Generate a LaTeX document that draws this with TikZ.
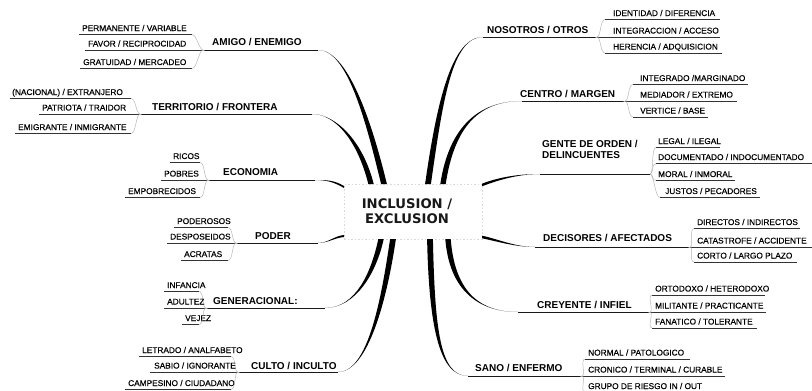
\documentclass[tikz,border=0pt]{standalone}
\usepackage{fontspec}
\newfontfamily\libsans{Liberation Sans}
\newfontfamily\libsub[FakeBold=0.35]{Liberation Sans}
\newfontfamily\djsans{DejaVu Sans}
\tikzset{
 mainlab/.style={font=\libsans\bfseries\fontsize{10}{11}\selectfont, anchor=base west, inner sep=0pt, align=left, text=black},
 sublab/.style={font=\libsub\fontsize{8.3}{10}\selectfont, anchor=base west, inner sep=0pt, text=black},
 uline/.style={draw=black!90, line width=0.8pt},
 subul/.style={draw=black!80, line width=0.6pt},
 subline/.style={draw=black!30, line width=0.45pt},
 limb/.style={fill=black},
 corebox/.style={draw=black!15, dash pattern=on 1.5pt off 2pt, fill=white, line width=0.5pt, minimum width=138pt, minimum height=55pt, inner sep=0pt},
 coretext/.style={font=\djsans\bfseries\fontsize{13.2}{15}\selectfont, align=center, inner sep=0pt, text=black!90},
}
% tapered limb, mostly vertical near the core: start, ctrl1, ctrl2, end, half width
\newcommand\limbV[5]{\fill[limb] ([xshift=-#5]#1) .. controls ([xshift=-#5]#2) and (#3) .. (#4) .. controls (#3) and ([xshift=#5]#2) .. ([xshift=#5]#1) -- cycle;}
% tapered limb, mostly horizontal near the core
\newcommand\limbH[5]{\fill[limb] ([yshift=-#5]#1) .. controls ([yshift=-#5]#2) and (#3) .. (#4) .. controls (#3) and ([yshift=#5]#2) .. ([yshift=#5]#1) -- cycle;}
% left sub item: name, x, base, text, underline start, underline end, junction
\newcommand\subL[7]{%
 \node[sublab] (#1) at (#2,#3) {#4};
 \draw[subul] (#5,#3+3.5) -- (#6,#3+3.5);
 \draw[subline] (#6,#3+3.5) .. controls +(5,0) and +(-4,0) .. (#7);}
% right sub item
\newcommand\subR[7]{%
 \node[sublab] (#1) at (#2,#3) {#4};
 \draw[subline] (#7) .. controls +(4,0) and +(-5,0) .. (#5,#3+3.5);
 \draw[subul] (#5,#3+3.5) -- (#6,#3+3.5);}
\begin{document}
\begin{tikzpicture}[x=1pt,y=-1pt]
\useasboundingbox (0,0) rectangle (812,391);
\fill[white] (0,0) rectangle (812,391);

% core
\node[corebox] (corebox) at (413,211.5) {};
\node[coretext] (core) at (407,211.5) {INCLUSION /\\EXCLUSION};

% ---------- coordinates ----------
\coordinate (bAmigo) at (384,184);  \coordinate (eAmigo) at (318,50);  \coordinate (jAmigo) at (203,50);
\coordinate (bTerr) at (371,184);   \coordinate (eTerr) at (312,114);  \coordinate (jTerr) at (140,114);
\coordinate (bEcon) at (344,187);   \coordinate (eEcon) at (315,180);  \coordinate (jEcon) at (208,180);
\coordinate (bPoder) at (344,236);  \coordinate (ePoder) at (318,243); \coordinate (jPoder) at (236,243);
\coordinate (bGen) at (381,239);    \coordinate (eGen) at (325,308);   \coordinate (jGen) at (206,308);
\coordinate (bCulto) at (393,239);  \coordinate (eCulto) at (338,372); \coordinate (jCulto) at (238,372);
\coordinate (bNos) at (428,184);    \coordinate (eNos) at (483,37);    \coordinate (jNos) at (597,37);
\coordinate (bCentro) at (443,184); \coordinate (eCentro) at (522,101);\coordinate (jCentro) at (625,101);
\coordinate (bGente) at (482,185);  \coordinate (eGente) at (540,174); \coordinate (jGente) at (650,174);
\coordinate (bDec) at (482,237);    \coordinate (eDec) at (535,247);   \coordinate (jDec) at (690,247);
\coordinate (bCrey) at (448,239);   \coordinate (eCrey) at (518,312);  \coordinate (jCrey) at (650,312);
\coordinate (bSano) at (430,239);   \coordinate (eSano) at (468,376);  \coordinate (jSano) at (582,376);

% ---------- limbs ----------
\limbV{bAmigo}{368,118}{347,50}{eAmigo}{2.9pt}
\limbV{bTerr}{360,140}{335,114}{eTerr}{2.7pt}
\limbH{bEcon}{334,181}{326,180}{eEcon}{1.0pt}
\limbH{bPoder}{334,237}{328,243}{ePoder}{1.0pt}
\limbV{bGen}{374,272}{356,308}{eGen}{2.7pt}
\limbV{bCulto}{384,300}{368,372}{eCulto}{2.9pt}
\limbV{bNos}{440,100}{452,37}{eNos}{2.9pt}
\limbV{bCentro}{452,125}{480,101}{eCentro}{2.7pt}
\limbH{bGente}{500,178}{520,174}{eGente}{1.3pt}
\limbH{bDec}{497,240}{515,247}{eDec}{1.3pt}
\limbV{bCrey}{452,290}{478,312}{eCrey}{2.7pt}
\limbV{bSano}{432,330}{440,376}{eSano}{2.9pt}

% ---------- main underlines ----------
\draw[uline] (eAmigo) -- (jAmigo);
\draw[uline] (eTerr) -- (jTerr);
\draw[uline] (eEcon) -- (jEcon);
\draw[uline] (ePoder) -- (jPoder);
\draw[uline] (eGen) -- (jGen);
\draw[uline] (eCulto) -- (jCulto);
\draw[uline] (eNos) -- (jNos);
\draw[uline] (eCentro) -- (jCentro);
\draw[uline] (eGente) -- (jGente);
\draw[uline] (eDec) -- (jDec);
\draw[uline] (eCrey) -- (jCrey);
\draw[uline] (eSano) -- (jSano);

% ---------- main labels ----------
\node[mainlab] (lAmigo) at (212,45.6) {AMIGO / ENEMIGO};
\node[mainlab] (lTerr) at (152,110.6) {TERRITORIO / FRONTERA};
\node[mainlab] (lEcon) at (223,175.6) {ECONOMIA};
\node[mainlab] (lPoder) at (255,239.6) {PODER};
\node[mainlab] (lGen) at (213,304.6) {GENERACIONAL:};
\node[mainlab] (lCulto) at (251,369.6) {CULTO / INCULTO};
\node[mainlab] (lNos) at (487,33.6) {NOSOTROS / OTROS};
\node[mainlab] (lCentro) at (520,97.6) {CENTRO / MARGEN};
\node[mainlab] (lGente) at (542,158.6) {GENTE DE ORDEN /\\DELINCUENTES};
\node[mainlab] (lDec) at (543,241.6) {DECISORES / AFECTADOS};
\node[mainlab] (lCrey) at (537,308.6) {CREYENTE / INFIEL};
\node[mainlab] (lSano) at (475,371.6) {SANO / ENFERMO};

% ---------- left sub items ----------
\subL{sPerm}{82}{31}{PERMANENTE / VARIABLE}{79}{192}{jAmigo}
\subL{sFavor}{88}{46.5}{FAVOR / RECIPROCIDAD}{85}{203}{jAmigo}
\subL{sGrat}{83}{65}{GRATUIDAD / MERCADEO}{80}{192}{jAmigo}
\subL{sNac}{12}{95}{(NACIONAL) / EXTRANJERO}{10}{131}{jTerr}
\subL{sPat}{42}{110.5}{PATRIOTA / TRAIDOR}{39}{140}{jTerr}
\subL{sEmi}{18}{130}{EMIGRANTE / INMIGRANTE}{15}{131}{jTerr}
\subL{sRicos}{173}{159}{RICOS}{170}{200}{jEcon}
\subL{sPobres}{164}{176.5}{POBRES}{161}{208}{jEcon}
\subL{sEmpob}{128}{194}{EMPOBRECIDOS}{125}{200}{jEcon}
\subL{sPod}{177}{224}{PODEROSOS}{174}{228}{jPoder}
\subL{sDesp}{170}{239.5}{DESPOSEIDOS}{167}{236}{jPoder}
\subL{sAcr}{184}{257}{ACRATAS}{181}{228}{jPoder}
\subL{sInf}{167}{288}{INFANCIA}{164}{199}{jGen}
\subL{sAdu}{167}{304.5}{ADULTEZ}{164}{206}{jGen}
\subL{sVej}{185}{321}{VEJEZ}{182}{199}{jGen}
\subL{sLet}{142}{353}{LETRADO / ANALFABETO}{139}{231}{jCulto}
\subL{sSab}{154}{368.5}{SABIO / IGNORANTE}{150}{238}{jCulto}
\subL{sCamp}{128}{386}{CAMPESINO / CIUDADANO}{125}{231}{jCulto}

% ---------- right sub items ----------
\subR{sIdent}{613}{16}{IDENTIDAD / DIFERENCIA}{605}{720}{jNos}
\subR{sInteg}{613}{33.5}{INTEGRACCION / ACCESO}{597}{720}{jNos}
\subR{sHer}{613}{49.5}{HERENCIA / ADQUISICION}{605}{722}{jNos}
\subR{sIntM}{640}{81}{INTEGRADO /MARGINADO}{633}{748}{jCentro}
\subR{sMed}{640}{97.5}{MEDIADOR / EXTREMO}{625}{737}{jCentro}
\subR{sVert}{640}{113.5}{VERTICE / BASE}{633}{708}{jCentro}
\subR{sLegal}{658}{144}{LEGAL / ILEGAL}{656}{720}{jGente}
\subR{sDoc}{658}{160}{DOCUMENTADO / INDOCUMENTADO}{656}{812}{jGente}
\subR{sMoral}{658}{177}{MORAL / INMORAL}{656}{735}{jGente}
\subR{sJust}{665}{194}{JUSTOS / PECADORES}{660}{760}{jGente}
\subR{sDir}{697}{225}{DIRECTOS / INDIRECTOS}{694}{800}{jDec}
\subR{sCat}{697}{243.5}{CATASTROFE / ACCIDENTE}{690}{812}{jDec}
\subR{sCorto}{697}{258.5}{CORTO / LARGO PLAZO}{694}{797}{jDec}
\subR{sOrt}{655}{291.5}{ORTODOXO / HETERODOXO}{652}{765}{jCrey}
\subR{sMil}{655}{308.5}{MILITANTE / PRACTICANTE}{650}{766}{jCrey}
\subR{sFan}{655}{324.5}{FANATICO / TOLERANTE}{652}{757}{jCrey}
\subR{sNorm}{588}{355.5}{NORMAL / PATOLOGICO}{585}{690}{jSano}
\subR{sCron}{588}{372.5}{CRONICO / TERMINAL / CURABLE}{582}{725}{jSano}
\subR{sGrupo}{588}{389}{GRUPO DE RIESGO IN / OUT}{585}{710}{jSano}
\end{tikzpicture}
\end{document}
